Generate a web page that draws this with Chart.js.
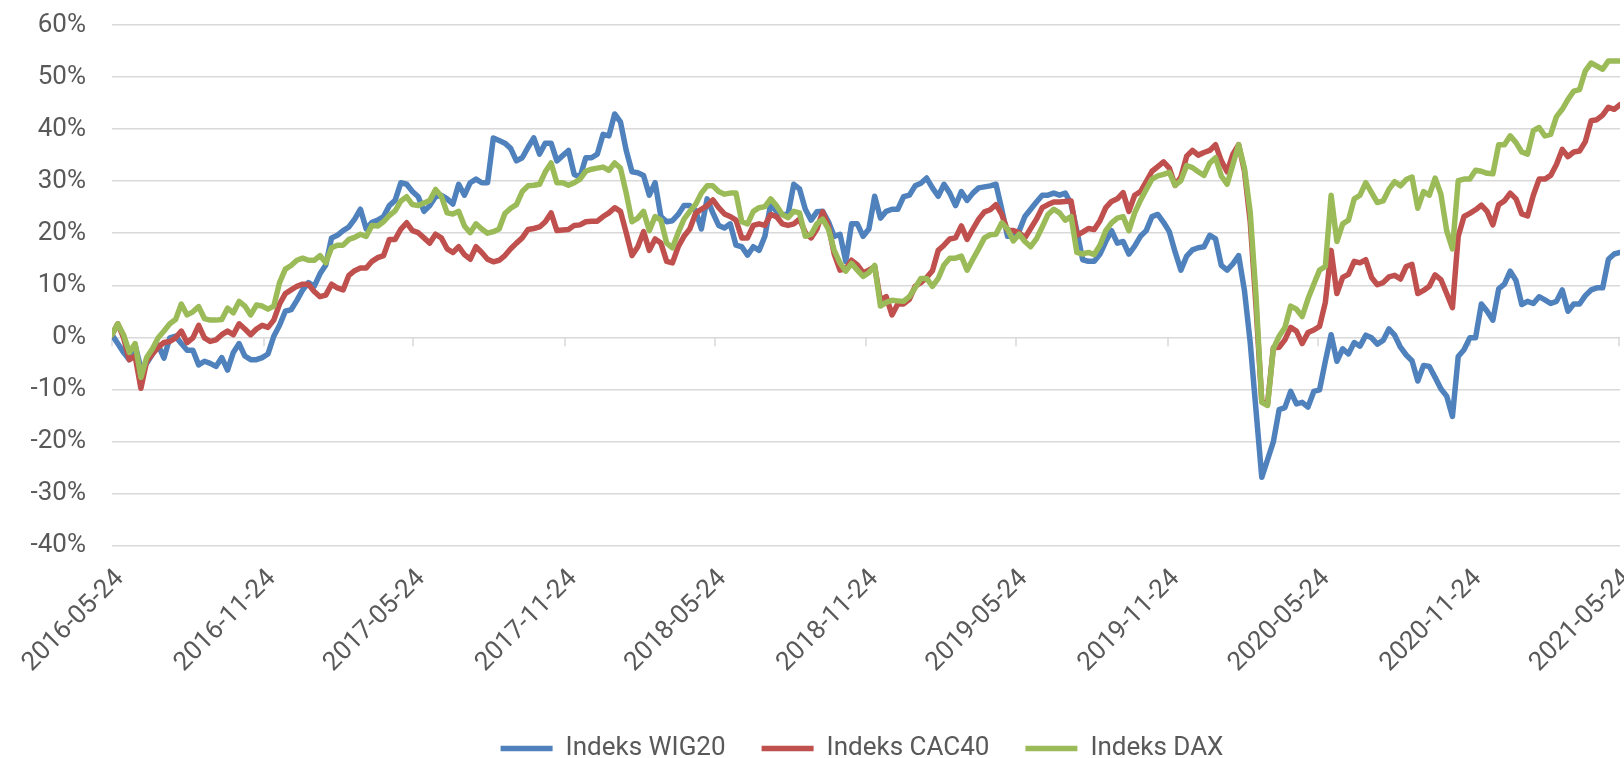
<!DOCTYPE html>
<html lang="pl">
<head>
    <meta charset="UTF-8">
    <title>Indeks WIG20, CAC40, DAX</title>
    <script src="https://cdn.jsdelivr.net/npm/chart.js@4.4.1/dist/chart.umd.min.js"></script>
    <style>
        html, body { margin: 0; padding: 0; background: #fff; }
        .wrap { width: 1624px; height: 758px; position: relative; }
    </style>
</head>
<body>
    <div class="wrap"><canvas id="chart"></canvas></div>
    <script>
        // notowania tygodniowe, zmiana w % od 2016-05-24
        const startDate = '2016-05-24';
        const tickLabels = ['2016-05-24','2016-11-24','2017-05-24','2017-11-24','2018-05-24','2018-11-24',
                            '2019-05-24','2019-11-24','2020-05-24','2020-11-24','2021-05-24'];

        const wig20 = [
            0.5, -1.2, -2.9, -4.3, -1.5, -6, -5, -3.2, -1.5, -4,
            -0.1, 0.2, -1.2, -2.5, -2.5, -5.3, -4.6, -5, -5.6, -3.9,
            -6.3, -2.9, -1.2, -3.6, -4.3, -4.3, -3.9, -3.2, 0.2, 2.3,
            5, 5.3, 7.1, 9.1, 10.5, 9.8, 12.2, 13.9, 19.1, 19.6,
            20.5, 21.2, 22.7, 24.6, 20.8, 22.1, 22.5, 23.2, 25.3, 26.3,
            29.7, 29.4, 28, 27, 24.2, 25.3, 27, 27.3, 26.6, 25.6,
            29.4, 27.3, 29.7, 30.4, 29.7, 29.7, 38.3, 37.8, 37.3, 36.3,
            33.9, 34.5, 36.5, 38.3, 35.2, 37.3, 37.3, 33.9, 34.9, 35.9,
            31.3, 30.8, 34.5, 34.5, 35.2, 39, 38.7, 42.9, 41.4, 35.9,
            31.8, 31.6, 31.1, 27.3, 29.7, 23.2, 22.2, 22.4, 23.6, 25.3,
            25.3, 24.4, 20.8, 26.6, 23.9, 21.5, 21, 21.8, 17.7, 17.4,
            15.8, 17.4, 16.7, 19.4, 25.6, 24.2, 23.6, 23.6, 29.4, 28.5,
            24.6, 22.5, 24.1, 24.2, 22.2, 19.4, 19.8, 14.6, 21.8, 21.8,
            19.4, 20.8, 27.1, 22.9, 24.2, 24.6, 24.6, 27, 27.3, 29.1,
            29.6, 30.6, 28.7, 27.1, 29.4, 27.7, 25.3, 28, 26.3, 27.7,
            28.7, 28.9, 29.1, 29.4, 24.6, 19.4, 19.4, 20.4, 23.2, 24.6,
            26, 27.3, 27.3, 27.7, 27.3, 27.7, 25.6, 20.4, 14.9, 14.6,
            14.6, 16, 18.4, 20.5, 18.1, 18.4, 16, 17.5, 19.4, 20.5,
            23.2, 23.6, 22.1, 20.3, 16.4, 12.9, 15.6, 16.8, 17.2, 17.4,
            19.6, 18.9, 13.8, 12.9, 14.1, 15.7, 9, -1, -14, -26.9,
            -23.5, -20.1, -13.9, -13.5, -10.4, -12.8, -12.5, -13.4, -10.4, -10.1,
            -4.6, 0.5, -4.6, -2.2, -3.2, -1, -1.7, 0.4, -0.1, -1.3,
            -0.6, 1.6, 0.4, -1.9, -3.4, -4.5, -8.4, -5.4, -5.6, -7.7,
            -9.9, -11.3, -15.2, -3.7, -2.4, -0.1, -0.1, 6.4, 5, 3.3,
            9.3, 10.2, 12.7, 10.9, 6.3, 6.9, 6.5, 7.8, 7.2, 6.5,
            6.9, 9.1, 5, 6.4, 6.4, 8, 9.1, 9.5, 9.5, 15,
            16, 16.3
        ];
        const cac40 = [
            0.5, 2.6, -0.1, -4.3, -3.6, -9.8, -4.6, -3.2, -1.9, -1,
            -0.8, -0.1, 1.2, -1, -0.1, 2.3, -0.1, -0.8, -0.5, 0.5,
            1.2, 0.5, 2.6, 1.6, 0.5, 1.6, 2.3, 1.9, 3.3, 6.4,
            8.4, 9.1, 9.8, 10.2, 10.2, 8.8, 7.8, 8.1, 10.2, 9.5,
            9.1, 11.9, 12.8, 13.3, 13.3, 14.6, 15.3, 15.7, 18.8, 18.8,
            20.8, 22, 20.5, 20.1, 19.1, 18.1, 19.8, 19.1, 17, 16.3,
            17.4, 15.9, 15, 17.4, 16.3, 15, 14.5, 14.8, 15.7, 17,
            18.1, 19.1, 20.7, 20.9, 21.2, 22.2, 23.9, 20.5, 20.6, 20.7,
            21.5, 21.6, 22.2, 22.3, 22.3, 23.2, 23.9, 24.9, 24.2, 20.1,
            15.7, 17.4, 20.3, 16.7, 18.9, 18.1, 14.6, 14.3, 17.4, 19.4,
            20.8, 23.8, 24.6, 25.3, 26.4, 24.9, 23.7, 23.2, 22.5, 19.1,
            19.1, 21.5, 21.8, 21.5, 23.6, 23.2, 21.8, 21.5, 21.8, 22.7,
            20.1, 19.1, 20.8, 24.1, 21.4, 16, 12.9, 13.1, 14.8, 13.9,
            12.4, 12.9, 13.6, 7.1, 7.8, 4.3, 6.4, 6.4, 7.3, 9.8,
            10.5, 11.5, 12.8, 16.7, 17.7, 18.9, 19.1, 21.4, 18.8, 20.8,
            22.7, 24.1, 24.5, 25.5, 23.6, 20.5, 20.5, 20.1, 19.1, 20.9,
            22.7, 24.9, 25.5, 26, 26, 26.1, 26.2, 19.6, 20.2, 20.9,
            20.7, 22.4, 24.9, 26.1, 26.6, 27.8, 24.2, 27.3, 28, 29.9,
            31.9, 32.8, 33.7, 32.5, 29.2, 30.8, 34.8, 35.9, 35, 35.5,
            35.9, 37, 33.9, 31.8, 35.2, 37, 31.9, 22.2, 6, -12.2,
            -12.8, -2, -1.9, -0.5, 1.9, 1.2, -1.2, 0.9, 1.4, 2.1,
            6.7, 16.7, 8.4, 11.5, 12.1, 14.6, 14.3, 14.9, 11.5, 10.1,
            10.5, 11.6, 11.9, 11.2, 13.6, 14, 8.4, 9, 9.8, 12,
            11.1, 8.4, 5.7, 19.4, 23.2, 23.8, 24.5, 25.4, 24.2, 21.6,
            25.5, 26.2, 27.7, 26.6, 23.7, 23.3, 27.3, 30.4, 30.4, 31.1,
            33.2, 36.1, 34.7, 35.6, 35.8, 37.6, 41.6, 41.8, 42.7, 44.2,
            43.8, 44.7
        ];
        const dax = [
            0.5, 2.6, 0.5, -2.9, -1.2, -7.7, -3.9, -2.2, -0.1, 1.2,
            2.6, 3.4, 6.4, 4.3, 4.9, 5.9, 3.6, 3.3, 3.3, 3.4,
            5.6, 4.7, 6.9, 6, 4.3, 6.2, 6, 5.4, 6, 10.5,
            13.1, 13.8, 14.8, 15.2, 14.8, 14.8, 15.7, 14.3, 17.2, 17.7,
            17.7, 18.8, 19.2, 19.8, 19.4, 21.5, 21.4, 22.2, 23.4, 24.3,
            26.2, 27, 25.5, 25.3, 25.8, 26.3, 28.4, 27.1, 23.9, 23.7,
            24.2, 21.4, 20.1, 21.8, 20.8, 20, 20.3, 20.8, 23.8, 24.8,
            25.5, 28, 29.1, 29.2, 29.4, 31.8, 33.5, 29.7, 29.7, 29.2,
            29.7, 30.4, 31.9, 32.3, 32.5, 32.7, 32.1, 33.5, 32.5, 27.7,
            22.2, 22.9, 24.2, 20.5, 23.2, 22.5, 18.1, 17.2, 20.1, 22.7,
            24.2, 25.5, 27.7, 29.1, 29.1, 28, 27.5, 27.7, 27.7, 22.2,
            21.8, 24.2, 24.9, 25.1, 26.6, 25.3, 23.6, 23, 24.2, 23.9,
            19.4, 19.8, 21.8, 22.7, 20.8, 16.7, 14.3, 12.7, 14.2, 12.9,
            11.7, 12.4, 13.8, 6, 6.7, 7.1, 7, 6.9, 7.8, 9.5,
            11.3, 11.3, 9.8, 11.3, 13.9, 15.2, 15.2, 15.6, 12.9, 15,
            17, 19.1, 19.7, 19.8, 22, 20.8, 18.5, 19.8, 18.4, 17.4,
            18.9, 21.2, 23.6, 24.6, 23.9, 22.5, 23.2, 16.3, 16, 16.3,
            15.9, 17.7, 20.5, 22, 22.9, 23.2, 20.5, 23.9, 26.3, 28.4,
            30.4, 31, 31.3, 31.7, 29.2, 30.1, 33, 32.6, 31.8, 31.1,
            33.5, 34.5, 31, 29.4, 33.2, 37, 32.5, 24, 8, -12.5,
            -13.1, -2.2, 0.2, 1.9, 6, 5.4, 4, 7.4, 10.2, 12.9,
            13.6, 27.3, 18.4, 21.8, 22.5, 26.6, 27.3, 29.7, 27.8, 25.9,
            26.2, 28.4, 29.9, 29.1, 30.3, 30.8, 24.8, 28, 27.3, 30.6,
            27.5, 20.5, 17, 30.1, 30.4, 30.4, 32.1, 31.9, 31.5, 31.4,
            37, 37, 38.7, 37.4, 35.6, 35.2, 39.7, 40.3, 38.7, 39,
            42.4, 43.8, 45.7, 47.3, 47.6, 51.2, 52.7, 52.1, 51.5, 53.1,
            53.1, 53.1
        ];

        const DAY = 86400000;
        const dayOf = s => (Date.parse(s) - Date.parse(startDate)) / DAY;
        const toPoints = arr => arr.map((v, i) => ({ x: i * 7, y: v }));

        const txtColor = '#595959';
        const gridColor = '#d9d9d9';
        const font = { family: "Roboto, 'Liberation Sans', sans-serif", size: 26 };

        // male kreski osi X na linii 0%
        const zeroTicks = {
            id: 'zeroTicks',
            beforeDatasetsDraw(chart) {
                const { ctx, scales: { x, y } } = chart;
                const y0 = y.getPixelForValue(0);
                ctx.save();
                ctx.strokeStyle = gridColor;
                ctx.lineWidth = 1.5;
                x.ticks.forEach(t => {
                    const px = Math.round(x.getPixelForValue(t.value));
                    ctx.beginPath();
                    ctx.moveTo(px, y0);
                    ctx.lineTo(px, y0 + 9);
                    ctx.stroke();
                });
                ctx.restore();
            }
        };

        // legenda troche w prawo, jak w oryginale
        const legendShift = {
            id: 'legendShift',
            afterLayout(chart) { chart.legend.left = 104; }
        };

        const line = (label, data, color, order) => ({
            label, data: toPoints(data), order,
            borderColor: color, backgroundColor: color,
            borderWidth: 5.5, pointRadius: 0,
            borderCapStyle: 'round', borderJoinStyle: 'round', tension: 0
        });

        new Chart(document.getElementById('chart'), {
            type: 'line',
            data: {
                datasets: [
                    line('Indeks WIG20', wig20, '#4f81bd', 2),
                    line('Indeks CAC40', cac40, '#c0504d', 1),
                    line('Indeks DAX', dax, '#9bbb59', 0)
                ]
            },
            options: {
                responsive: true,
                maintainAspectRatio: false,
                animation: false,
                layout: { padding: { top: 25, right: 4, bottom: -13.5, left: 0 } },
                plugins: {
                    tooltip: { enabled: false },
                    legend: {
                        position: 'bottom',
                        labels: {
                            usePointStyle: true, pointStyle: 'line', pointStyleWidth: 52,
                            padding: 36, color: txtColor, font,
                            sort: (a, b) => a.datasetIndex - b.datasetIndex
                        }
                    }
                },
                scales: {
                    x: {
                        type: 'linear',
                        min: 0,
                        max: (wig20.length - 1) * 7,
                        afterBuildTicks: s => { s.ticks = tickLabels.map(l => ({ value: dayOf(l) })); },
                        afterFit: s => { s.height = 154; s.paddingLeft = 0; s.paddingRight = 0; },
                        grid: { display: false },
                        border: { display: false },
                        ticks: {
                            autoSkip: false, minRotation: 45, maxRotation: 45, padding: 10, labelOffset: 8,
                            color: txtColor, font,
                            callback: (v, i) => tickLabels[i]
                        }
                    },
                    y: {
                        min: -40,
                        max: 60,
                        afterFit: s => { s.width = 112; s.paddingTop = 0; s.paddingBottom = 0; },
                        grid: { color: gridColor, lineWidth: 1.5, drawTicks: false },
                        border: { display: false },
                        ticks: { stepSize: 10, padding: 26, color: txtColor, font, callback: v => v + '%' }
                    }
                }
            },
            plugins: [zeroTicks, legendShift]
        });
    </script>
</body>
</html>
